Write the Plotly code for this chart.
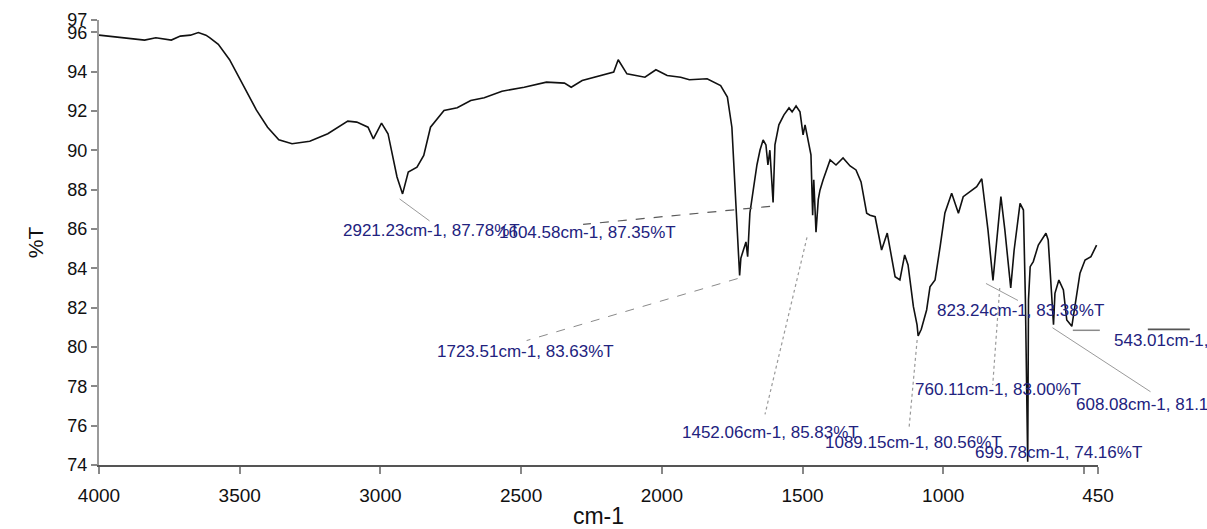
import plotly.graph_objects as go

# IR spectrum: wavenumber (cm-1) vs transmittance (%T)
wavenumber = [
    4000, 3901, 3838, 3798, 3743, 3711, 3675, 3647, 3620, 3607, 3576, 3536, 3488,
    3441, 3401, 3361, 3314, 3251, 3187, 3116, 3084, 3044, 3025, 2996, 2973, 2941,
    2921.23, 2901, 2870, 2846, 2822, 2774, 2727, 2679, 2631, 2568, 2489, 2410,
    2346, 2322, 2283, 2219, 2171, 2155, 2124, 2060, 2021, 1981, 1933, 1902, 1839,
    1791, 1767, 1751, 1736, 1723.51, 1719, 1710, 1701, 1695, 1687, 1675, 1662,
    1651, 1640, 1630, 1623, 1616, 1604.58, 1598, 1584, 1566, 1548, 1537, 1523,
    1509, 1498, 1491, 1481, 1470, 1464, 1460, 1452.06, 1444, 1438, 1427, 1402,
    1381, 1356, 1331, 1310, 1292, 1272, 1260, 1242, 1219, 1199, 1186, 1171, 1154,
    1137, 1125, 1106, 1093, 1089.15, 1078, 1059, 1047, 1029, 1011, 994, 970, 946,
    929, 899, 881, 863, 851, 841, 823.24, 812, 795, 781, 760.11, 748, 727, 715,
    708, 699.78, 697, 691, 680, 662, 650, 635, 627, 608.08, 603, 589, 573, 561,
    543.01, 532, 514, 496, 475, 455,
]
transmittance = [
    95.85, 95.7, 95.6, 95.72, 95.6, 95.8, 95.85, 95.98, 95.85, 95.72, 95.38, 94.6,
    93.3, 92.05, 91.17, 90.53, 90.33, 90.46, 90.84, 91.48, 91.43, 91.17, 90.58,
    91.38, 90.84, 88.64, 87.78, 88.89, 89.14, 89.74, 91.17, 92.02, 92.16, 92.53,
    92.67, 93.0, 93.2, 93.46, 93.41, 93.2, 93.54, 93.8, 93.97, 94.6, 93.88, 93.71,
    94.09, 93.8, 93.71, 93.58, 93.63, 93.29, 92.7, 91.17, 87.13, 83.63, 84.52,
    84.93, 85.34, 84.59, 86.81, 87.98, 89.25, 90.01, 90.52, 90.27, 89.25, 90.0,
    87.35, 90.27, 91.29, 91.8, 92.15, 91.95, 92.25, 91.95, 90.78, 91.29, 90.52,
    89.76, 86.7, 88.5, 85.83, 87.5, 87.97, 88.49, 89.51, 89.25, 89.61, 89.2, 89.0,
    88.39, 86.8, 86.7, 86.62, 84.93, 85.79, 84.68, 83.57, 83.41, 84.68, 84.17,
    82.05, 81.12, 80.56, 80.9, 81.88, 83.06, 83.41, 85.1, 86.81, 87.81, 86.8,
    87.64, 87.98, 88.15, 88.55, 87.13, 85.95, 83.38, 84.93, 87.64, 85.95, 83.0,
    84.93, 87.3, 86.96, 82.4, 74.16, 82.4, 84.08, 84.34, 85.18, 85.44, 85.78,
    85.44, 81.13, 82.73, 83.4, 82.9, 81.37, 81.05, 82.05, 83.75, 84.42, 84.59,
    85.18,
]

# Labelled peaks
peak_wn = [2921.23, 1604.58, 1723.51, 1452.06, 1089.15, 823.24, 760.11, 699.78, 608.08, 543.01]
peak_t = [87.78, 87.35, 83.63, 85.83, 80.56, 83.38, 83.00, 74.16, 81.13, 81.05]

x_tick_vals = [4000, 3500, 3000, 2500, 2000, 1500, 1000, 500, 450]
x_tick_text = ["4000", "3500", "3000", "2500", "2000", "1500", "1000", "", "450"]
y_tick_vals = [74, 76, 78, 80, 82, 84, 86, 88, 90, 92, 94, 96, 96.62]
y_tick_text = ["74", "76", "78", "80", "82", "84", "86", "88", "90", "92", "94", "96", "97"]

X_LEFT, X_RIGHT = 4000, 450
Y_LOW, Y_HIGH = 74, 96.62

W, H = 1207, 529
M_L, M_R, M_T, M_B = 99, 109, 20, 64
PW = W - M_L - M_R
PH = H - M_T - M_B

FONT = "Liberation Sans, Arial, sans-serif"
LABEL_COLOR = "#22227e"

# label offset (dx, dy) and leader segments [(dx0, dy0, dx1, dy1, dash, color, width)], pixels from the peak
label_offsets = [(-62, 37), (-276, 30), (-305, 76), (-136, 200), (-95, 107),
                 (-58, 30), (-98, 102), (-55, -9), (20, 80), (40, 14)]
leaders = [
    [(-3, 5, 27, 27, "solid", "#9a9a9a", 1)],
    [(-3, 4, -190, 22, "dash", "#5a5a5a", 1.2)],
    [(-2, 3, -213, 65, "dash", "#8a8a8a", 1)],
    [(-9, 5, -51, 182, "dot", "#9a9a9a", 1.2)],
    [(-1, 4, -9, 91, "dot", "#9a9a9a", 1.2)],
    [(-7, 3, 25, 20, "solid", "#9a9a9a", 1)],
    [(-11, 0, -18, 97, "dot", "#9a9a9a", 1.2)],
    [],
    [(-1, 3, 97, 67, "solid", "#9a9a9a", 1)],
    [(1, 4, 28, 4, "solid", "#8a8a8a", 1.5), (76, 3, 118, 3, "solid", "#555555", 1.8)],
]


def to_paper(wn, t, dx=0.0, dy=0.0):
    px = (X_LEFT - wn) / (X_LEFT - X_RIGHT) + dx / PW
    py = (t - Y_LOW) / (Y_HIGH - Y_LOW) - dy / PH
    return px, py


fig = go.Figure()
fig.add_trace(go.Scatter(
    x=wavenumber, y=transmittance, mode="lines",
    line=dict(color="#111111", width=1.6), showlegend=False,
))

shapes = []
annotations = []
for wn, t, (ldx, ldy), segs in zip(peak_wn, peak_t, label_offsets, leaders):
    for dx0, dy0, dx1, dy1, dash, color, width in segs:
        x0, y0 = to_paper(wn, t, dx0, dy0)
        x1, y1 = to_paper(wn, t, dx1, dy1)
        shapes.append(dict(type="line", xref="paper", yref="paper",
                           x0=x0, y0=y0, x1=x1, y1=y1,
                           line=dict(color=color, width=width, dash=dash)))
    lx, ly = to_paper(wn, t, ldx, ldy)
    annotations.append(dict(
        xref="paper", yref="paper", x=lx, y=ly, xanchor="left", yanchor="middle",
        text=f"{wn:.2f}cm-1, {t:.2f}%T", showarrow=False,
        font=dict(family=FONT, size=17, color=LABEL_COLOR),
    ))

fig.update_layout(
    width=W, height=H,
    margin=dict(l=M_L, r=M_R, t=M_T, b=M_B),
    paper_bgcolor="white", plot_bgcolor="white",
    shapes=shapes, annotations=annotations,
    xaxis=dict(
        range=[X_LEFT, X_RIGHT], tickvals=x_tick_vals, ticktext=x_tick_text,
        automargin=False,
        showgrid=False, zeroline=False, showline=True, linecolor="#555555", linewidth=1.5,
        ticks="outside", ticklen=7, tickcolor="#888888", tickwidth=1.5,
        ticklabelstandoff=5,
        tickfont=dict(family=FONT, size=19, color="#111111"),
        title=dict(text="cm-1", font=dict(family=FONT, size=23, color="#111111"), standoff=6),
    ),
    yaxis=dict(
        range=[Y_LOW, Y_HIGH], tickvals=y_tick_vals, ticktext=y_tick_text,
        automargin=False,
        showgrid=False, zeroline=False, showline=True, linecolor="#9a9a9a", linewidth=2,
        ticks="outside", ticklen=6, tickcolor="#888888", tickwidth=1.5,
        tickfont=dict(family=FONT, size=18, color="#111111"),
        title=dict(text="%T", font=dict(family=FONT, size=21, color="#111111"), standoff=18),
    ),
)

fig.write_html("out.html")
